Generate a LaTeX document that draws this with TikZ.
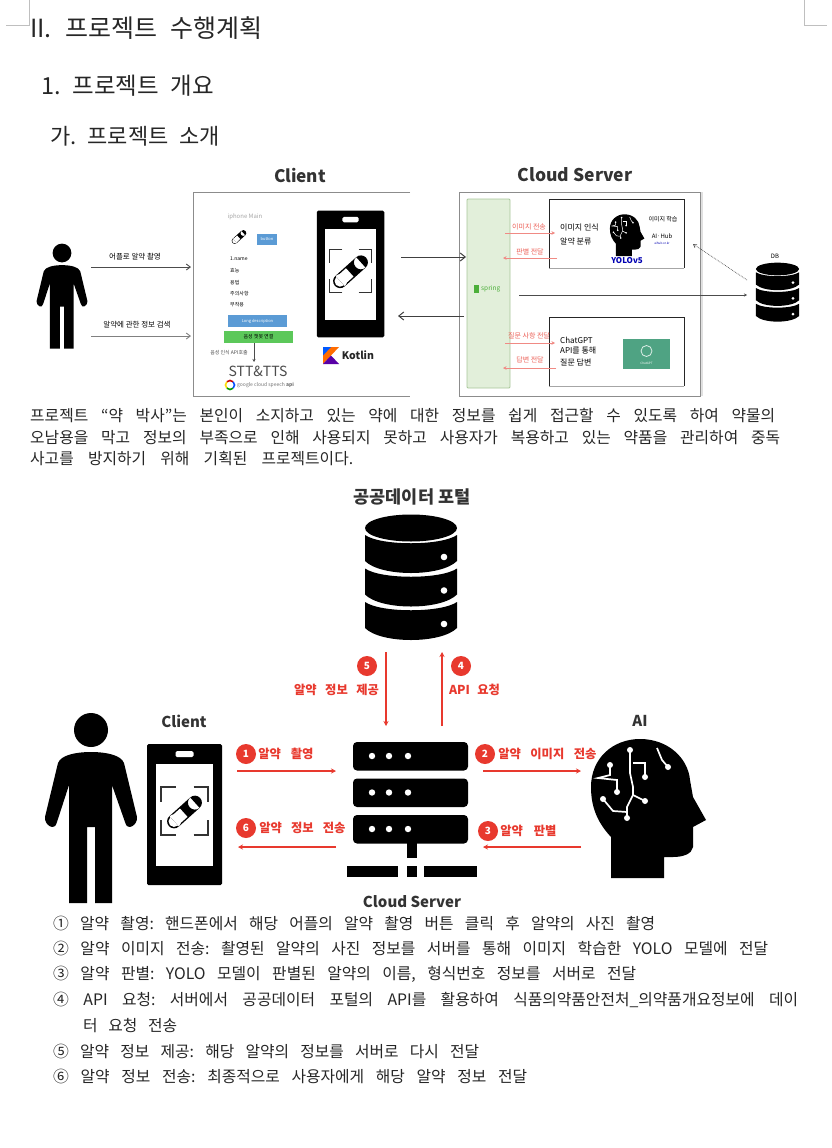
\documentclass[tikz,border=0pt]{standalone}
\usepackage{fontspec}
\setmainfont{Noto Sans CJK KR}
\usetikzlibrary{arrows.meta, positioning}
\definecolor{redmark}{HTML}{E8392E}
\definecolor{softred}{HTML}{F08A84}
\definecolor{boxgray}{HTML}{8C8C8C}
\definecolor{springfill}{HTML}{E2EFDA}
\definecolor{springline}{HTML}{A9C79A}
\definecolor{springtext}{HTML}{4CAF3A}
\definecolor{bluebar}{HTML}{5B9BD5}
\definecolor{greenbar}{HTML}{5CC85A}
\definecolor{gptgreen}{HTML}{4FA383}
\newcommand{\fitline}[2]{\makebox[#1pt][s]{\frenchspacing #2}}
\tikzset{
  textline/.style={anchor=west, inner sep=0pt, text=black!85},
  bodyline/.style={textline, font=\fontsize{15.8}{17}\selectfont},
  tinytext/.style={inner sep=0pt, font=\fontsize{#1}{#1}\selectfont},
  badge/.style={circle, fill=redmark, text=white, inner sep=0pt, minimum size=20pt, font=\fontsize{10}{10}\selectfont\bfseries},
  redtext/.style={text=redmark, inner sep=0pt, font=\fontsize{12.3}{13}\selectfont\bfseries},
  softtext/.style={text=redmark!80, inner sep=0pt, font=\fontsize{7}{8}\selectfont},
  headtext/.style={text=black!80, inner sep=0pt, font=\fontsize{#1}{#1}\selectfont\bfseries},
  redarrow/.style={redmark, line width=1.5pt, -{Stealth[length=5pt,width=5pt]}},
  softarrow/.style={softred, line width=.7pt, -{Stealth[length=3.5pt,width=3.5pt]}},
  blackarrow/.style={black!75, line width=1pt, -{Straight Barb[length=5pt,width=8pt]}},
  person/.pic={
    \fill (0,0) circle[radius=17];
    \fill (0,22) .. controls (-15,22) and (-30,25) .. (-33,33) -- (-46,87)
      .. controls (-47,95) and (-36,102) .. (-34,92) -- (-22,55) -- (-22,173) -- (-4,173) -- (-4,97)
      -- (4,97) -- (4,173) -- (21,173) -- (21,55) -- (34,92)
      .. controls (36,102) and (47,95) .. (46,87) -- (33,33)
      .. controls (30,25) and (15,22) .. (0,22) -- cycle;
  },
  pill/.pic={
    \begin{scope}[rotate=42]
      \fill (-14,-7) rectangle (14,7) (14,0) circle[radius=7] (-14,0) circle[radius=7];
      \fill[white] (-14,-5.6) rectangle (-1,5.6) (-14,0) circle[radius=5.6];
    \end{scope}
  },
  phone/.pic={
    \fill[rounded corners=1.5pt] (-37.5,-70.5) rectangle (37.5,70.5);
    \fill[white] (-28.5,-50.5) rectangle (28.5,51.5);
    \fill[white, rounded corners=1.5pt] (-9,-63.5) rectangle (9,-57.5);
    \foreach \sx in {-1,1} \foreach \sy/\py in {-1/-27.5,1/20.5} {
      \draw[line width=1.2pt, black!80] (\sx*9,\py) -- (\sx*23.5,\py) -- (\sx*23.5,\py-\sy*15);
    }
    \pic at (0,-2.5) {pill};
  },
  database/.pic={
    \fill (0,0) ellipse[x radius=46, y radius=13.5];
    \foreach \dy in {0,33.5,67} {
      \fill (-46,7+\dy) .. controls (-30,18+\dy) and (30,18+\dy) .. (46,7+\dy) -- (46,33+\dy)
        .. controls (30,49+\dy) and (-30,49+\dy) .. (-46,33+\dy) -- cycle;
      \fill[white] (33,29+\dy) circle[radius=3.3];
    }
  },
  pics/headicon/.style={code={
    \fill (-37,70) -- (-37,29) .. controls (-50,15) and (-57,0) .. (-57,-21)
      .. controls (-57,-50) and (-35,-69) .. (-8,-69) .. controls (20,-69) and (40,-50) .. (42,-28)
      -- (45,-11) -- (58,12) -- (45,19) -- (45,39) .. controls (44,46) and (35,49) .. (25,49)
      -- (16,49) -- (16,70) -- cycle;
    \draw[white, line width=#1] (-18,-58) -- (-18,-35) -- (-15,-21) -- (-15,-13) -- (-21,-1) -- (-21,10);
    \draw[white, line width=#1] (-15,-45) -- (-3,-45) -- (-3,-31);
    \draw[white, line width=#1] (-38,-43) -- (-38,-33) -- (-50,-30) -- (-31,-28) -- (-31,-16);
    \draw[white, line width=#1] (-45,-9) -- (-35,3) -- (-21,4);
    \draw[white, line width=#1] (-15,-13) -- (-3,-7);
    \draw[white, line width=#1] (9,-60) -- (14,-48) -- (20,-41);
    \foreach \p in {(-18,-58),(-3,-31),(-38,-43),(-31,-16),(-45,-9),(-21,10),(-3,-7),(20,-41)} {
      \fill[white] \p circle[radius=3];
    }
  }},
}
\begin{document}
\begin{tikzpicture}[x=1pt, y=-1pt]
  \useasboundingbox (0,0) rectangle (832,1148);
  \fill[white] (0,0) rectangle (832,1148);

  % page corners
  \draw[black!25, line width=.8pt] (29,0) -- (29,25) -- (6,25);
  \draw[black!25, line width=.8pt] (804,0) -- (804,25) -- (827,25);

  % headings
  \node[textline, font=\fontsize{25}{27}\selectfont] (title) at (30,28) {\fitline{232}{II. 프로젝트 수행계획}};
  \node[textline, font=\fontsize{23.5}{25}\selectfont] (section) at (41,86) {\fitline{173}{1. 프로젝트 개요}};
  \node[textline, font=\fontsize{22}{24}\selectfont] (subsection) at (50,136) {\fitline{170}{가. 프로젝트 소개}};

  % first figure: client side
  \node[headtext=17.2] (clienthead) at (300,175) {Client};
  \node[headtext=17.5] (cloudhead) at (575,175) {Cloud Server};
  \pic[scale=.553] (user) at (62,253) {person};
  \draw[boxgray, line width=1pt] (410,192) -- (193,192) -- (193,396) -- (410,396);
  \coordinate (ua1) at (91,267);
  \coordinate (ub1) at (191,267);
  \coordinate (ua2) at (91,336);
  \coordinate (ub2) at (191,336);
  \draw[black!70, line width=.9pt, -{Straight Barb[length=4pt,width=6pt]}] (ua1) -- (ub1);
  \draw[black!50, line width=.9pt, -{Straight Barb[length=4pt,width=6pt]}] (ua2) -- (ub2);
  \node[tinytext=7.5] (usertext1) at (135,257) {어플로 알약 촬영};
  \node[tinytext=7.5] (usertext2) at (137,325) {알약에 관한 정보 검색};

  \node[tinytext=6, text=black!35] (mainlabel) at (245,217) {iphone Main};
  \pic[scale=.42] (smallpill) at (239,237) {pill};
  \node[fill=bluebar, text=white, tinytext=4, minimum width=20pt, minimum height=11pt] (button) at (267,239) {button};
  \node[tinytext=5, anchor=west] (info1) at (230,259) {1.name};
  \node[tinytext=5, anchor=west] (info2) at (230,271) {효능};
  \node[tinytext=5, anchor=west] (info3) at (230,283) {용법};
  \node[tinytext=5, anchor=west] (info4) at (230,294) {주의사항};
  \node[tinytext=5, anchor=west] (info5) at (230,305) {부작용};
  \node[fill=bluebar, text=white, tinytext=4, minimum width=59pt, minimum height=12pt] (bluebar) at (257.5,321) {Long description};
  \node[fill=greenbar, tinytext=5, minimum width=69pt, minimum height=12pt] (greenbar) at (258.5,337) {음성 챗봇 연결};
  \node[tinytext=14, text=black!70] (stt) at (258,371) {STT\&TTS};
  \draw[black!70, line width=.5pt, -{Stealth[length=3pt,width=3pt]}] (254,343) -- (254,362);
  \node[tinytext=5, text=black!70, anchor=east] (sttcall) at (248,353) {음성 인식 API호출};
  \coordinate (gc) at (230,385);
  \foreach \a/\c in {45/red!80!black, 135/yellow!80!orange, 225/green!60!black, 315/blue!70!cyan} {
    \draw[line width=1.6pt, \c] (gc) ++(\a:4.5pt) arc[start angle=\a, delta angle=90, radius=4.5pt];
  }
  \node[tinytext=5, text=black!55, anchor=west] (speech) at (237,385) {google cloud speech \textbf{api}};

  \pic[scale=.9] (clientphone) at (350.5,274) {phone};
  \fill[orange!85!red] (323,347) -- (339,347) -- (331,355.5) -- (323,364) -- cycle;
  \fill[blue!65!cyan] (323,347) -- (331,347) -- (323,355.5) -- cycle;
  \fill[violet!70!blue] (323,364) -- (331,355.5) -- (339,364) -- cycle;
  \node[font=\fontsize{10.5}{12}\selectfont\bfseries, text=black!85, inner sep=0pt] (kotlin) at (358,355) {Kotlin};

  % first figure: server side
  \fill[black!12] (700,192) rectangle (703,396);
  \draw[boxgray, line width=1pt] (459,192) rectangle (700,396);
  \node[draw=springline, fill=springfill, line width=.8pt, rounded corners=1pt, minimum width=43pt, minimum height=189pt, inner sep=0pt] (spring) at (488.5,293.5) {};
  \node[tinytext=6.5, text=springtext, anchor=west] (springtext) at (481,289) {spring};
  \fill[springtext] (474,285) rectangle (479,293);

  \draw[black!85, line width=.9pt] (549,268) -- (549,199) -- (684,199) -- (684,268);
  \draw[black!35, line width=.7pt] (549,268) -- (684,268);
  \draw[black!85, line width=.9pt] (549,386) -- (549,317) -- (684,317) -- (684,386);
  \draw[black!35, line width=.7pt] (549,386) -- (684,386);

  \node[tinytext=8, anchor=west] (yolotext1) at (560,228) {이미지 인식};
  \node[tinytext=8, anchor=west] (yolotext2) at (560,242) {알약 분류};
  \pic[scale=.3] (smallhead) at (627,235) {headicon=.5pt};
  \node[tinytext=8, text=blue!70!black, font=\fontsize{8}{8}\selectfont\bfseries] (yolo) at (627,261) {YOLOv5};
  \node[tinytext=6] (learn) at (663,219) {이미지 학습};
  \node[tinytext=6] (aihub) at (662,236) {AI·Hub};
  \node[tinytext=3, text=blue!70!black] (aihubsite) at (662,243) {aihub.or.kr};

  \node[tinytext=8, anchor=west] (gpttext1) at (560,340) {ChatGPT};
  \node[tinytext=8, anchor=west] (gpttext2) at (560,351) {API를 통해};
  \node[tinytext=8, anchor=west] (gpttext3) at (560,362) {질문 답변};
  \node[fill=gptgreen, minimum width=47pt, minimum height=30pt, inner sep=0pt] (gptbox) at (646.5,354) {};
  \draw[white!80!gptgreen, line width=.8pt] (gptbox.center) ++(0,-3) circle[radius=5.5];
  \node[tinytext=3, text=white] (gptname) at (646.5,363) {ChatGPT};

  \coordinate (sa1) at (505,233);
  \coordinate (sb1) at (555,233);
  \coordinate (sa2) at (557,258);
  \coordinate (sb2) at (503,258);
  \coordinate (sa3) at (505,343);
  \coordinate (sb3) at (555,343);
  \coordinate (sa4) at (556,368);
  \coordinate (sb4) at (503,368);
  \draw[softarrow] (sa1) -- (sb1);
  \draw[softarrow] (sa2) -- (sb2);
  \draw[softarrow] (sa3) -- (sb3);
  \draw[softarrow] (sa4) -- (sb4);
  \node[softtext] (sendlabel) at (529,227) {이미지 전송};
  \node[softtext] (judgelabel) at (530,252) {판별 전달};
  \node[softtext] (asklabel) at (529,336) {질문 사항 전달};
  \node[softtext] (answerlabel) at (530,360) {답변 전달};

  \coordinate (ca1) at (401,257);
  \coordinate (cb1) at (466,257);
  \coordinate (ca2) at (464,316);
  \coordinate (cb2) at (398,316);
  \draw[blackarrow] (ca1) -- (cb1);
  \draw[blackarrow] (ca2) -- (cb2);

  \pic[scale=.47] (smalldb) at (777.5,269) {database};
  \node[tinytext=6] (dblabel) at (775,256) {DB};
  \coordinate (da1) at (519,295);
  \coordinate (db1) at (747,295);
  \coordinate (da2) at (747,280);
  \coordinate (db2) at (693,244);
  \draw[black!70, line width=.5pt, -{Stealth[length=3pt,width=3pt]}] (da1) -- (db1);
  \draw[black!70, line width=.7pt, densely dotted, -{Straight Barb[length=3pt,width=4pt]}] (da2) -- (db2);

  % paragraph
  \node[bodyline] (para1) at (30,416) {\fitline{745}{프로젝트 “약 박사”는 본인이 소지하고 있는 약에 대한 정보를 쉽게 접근할 수 있도록 하여 약물의}};
  \node[bodyline] (para2) at (30,438) {\fitline{750}{오남용을 막고 정보의 부족으로 인해 사용되지 못하고 사용자가 복용하고 있는 약품을 관리하여 중독}};
  \node[bodyline] (para3) at (30,459) {\fitline{323}{사고를 방지하기 위해 기획된 프로젝트이다.}};

  % second figure
  \node[headtext=17.5] (portal) at (412,497) {공공데이터 포털};
  \pic (publicdb) at (411,528) {database};
  \node[headtext=15] (client) at (184,721) {Client};
  \node[headtext=15] (ai) at (640,721) {AI};
  \node[headtext=15] (cloud) at (412,902) {Cloud Server};
  \pic (person) at (91,730) {person};
  \pic (phone) at (184.5,814.5) {phone};
  \pic (brain) at (648,808) {headicon=1.7pt};

  % server
  \foreach \y in {742,778.5,815} {
    \fill[rounded corners=4pt] (353,\y) rectangle (468,\y+28.5);
    \foreach \x in {372,389,408} {
      \fill[white] (\x,\y+14) circle[radius=3.2];
    }
  }
  \fill (407,843) rectangle (417,858);
  \fill (347,866) rectangle (398,877);
  \fill (407,866) rectangle (417,877);
  \fill (424,866) rectangle (477,877);

  \coordinate (a1) at (237,771);
  \coordinate (b1) at (336,771);
  \coordinate (a2) at (483,771);
  \coordinate (b2) at (581,771);
  \coordinate (a3) at (581,847);
  \coordinate (b3) at (483,847);
  \coordinate (a4) at (442,726);
  \coordinate (b4) at (442,652);
  \coordinate (a5) at (386,652);
  \coordinate (b5) at (386,726);
  \coordinate (a6) at (336,847);
  \coordinate (b6) at (238,847);
  \foreach \n in {1,...,6} {
    \draw[redarrow] (a\n) -- (b\n);
  }

  \node[badge] (mark1) at (246,754) {1};
  \node[badge] (mark2) at (485,754) {2};
  \node[badge] (mark3) at (488,831) {3};
  \node[badge] (mark4) at (461,666) {4};
  \node[badge] (mark5) at (367,666) {5};
  \node[badge] (mark6) at (246,828) {6};
  \node[redtext, right=2pt of mark1] (step1) {\fitline{55}{알약 촬영}};
  \node[redtext, right=3pt of mark2] (step2) {\fitline{98}{알약 이미지 전송}};
  \node[redtext, right=2pt of mark3] (step3) {\fitline{56}{알약 판별}};
  \node[redtext] (step4) at (474.5,690) {\fitline{51}{API 요청}};
  \node[redtext] (step5) at (336.5,690) {\fitline{85}{알약 정보 제공}};
  \node[redtext, right=3pt of mark6] (step6) {\fitline{86}{알약 정보 전송}};

  % list
  \node[bodyline] (item1) at (53,923) {\fitline{602}{① 알약 촬영: 핸드폰에서 해당 어플의 알약 촬영 버튼 클릭 후 알약의 사진 촬영}};
  \node[bodyline] (item2) at (53,948) {\fitline{715}{② 알약 이미지 전송: 촬영된 알약의 사진 정보를 서버를 통해 이미지 학습한 YOLO 모델에 전달}};
  \node[bodyline] (item3) at (53,974) {\fitline{583}{③ 알약 판별: YOLO 모델이 판별된 알약의 이름, 형식번호 정보를 서버로 전달}};
  \node[bodyline] (item4) at (53,1000) {\fitline{745}{④ API 요청: 서버에서 공공데이터 포털의 API를 활용하여 식품의약품안전처\_의약품개요정보에 데이}};
  \node[bodyline] (item4b) at (83,1026) {\fitline{94}{터 요청 전송}};
  \node[bodyline] (item5) at (53,1051) {\fitline{426}{⑤ 알약 정보 제공: 해당 알약의 정보를 서버로 다시 전달}};
  \node[bodyline] (item6) at (53,1076) {\fitline{474}{⑥ 알약 정보 전송: 최종적으로 사용자에게 해당 알약 정보 전달}};
\end{tikzpicture}
\end{document}
